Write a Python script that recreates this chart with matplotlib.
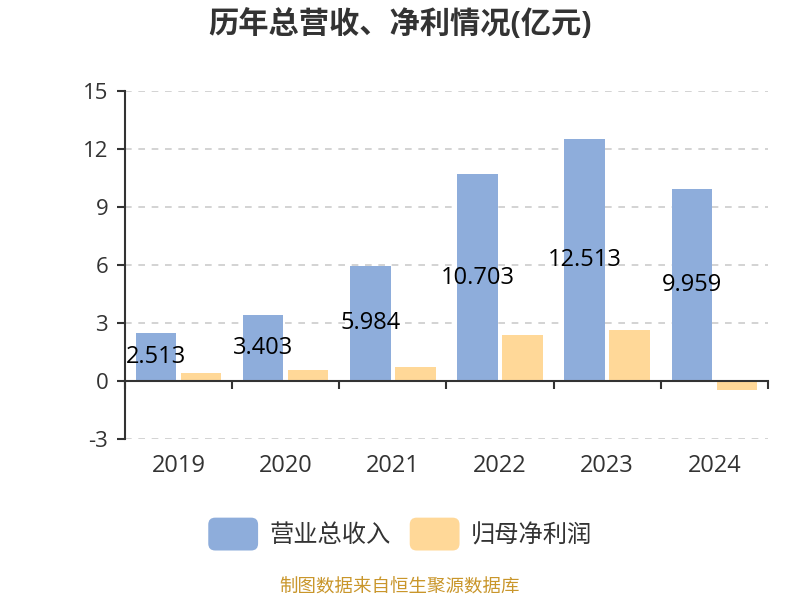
import matplotlib.pyplot as plt
from matplotlib.patches import FancyBboxPatch, Patch
from matplotlib.legend_handler import HandlerPatch
from matplotlib.transforms import blended_transform_factory

plt.rcParams['font.family'] = ['Open Sans', 'Noto Sans CJK SC', 'DejaVu Sans']

years = ["2019", "2020", "2021", "2022", "2023", "2024"]
revenue = [2.513, 3.403, 5.984, 10.703, 12.513, 9.959]
net_profit = [0.45, 0.6, 0.72, 2.4, 2.66, -0.44]
yticks = [-3, 0, 3, 6, 9, 12, 15]

blue = "#8eaddb"
orange = "#ffd898"


class RoundHandler(HandlerPatch):
    def create_artists(self, legend, orig_handle, xdescent, ydescent,
                       width, height, fontsize, trans):
        p = FancyBboxPatch((-xdescent, -ydescent - 4), width, height + 8,
                           boxstyle="round,pad=0,rounding_size=5",
                           facecolor=orig_handle.get_facecolor(),
                           edgecolor="none", transform=trans)
        return [p]


def main():
    fig = plt.figure(figsize=(8, 6), dpi=100)
    ax = fig.add_axes([0.156, 0.268, 0.804, 0.58])

    x = list(range(len(years)))
    ax.bar([i - 0.21 for i in x], revenue, width=0.38, color=blue)
    ax.bar([i + 0.21 for i in x], net_profit, width=0.38, color=orange)

    for i, v in enumerate(revenue):
        ax.text(i - 0.21, v / 2, f"{v:.3f}", ha="center", va="center",
                fontsize=17, color="black")

    ax.set_xlim(-0.5, 5.5)
    ax.set_ylim(-3, 15)
    ax.set_yticks(yticks)
    ax.set_yticklabels([str(t) for t in yticks], fontsize=16, color="#333333")
    ax.yaxis.grid(True, linestyle=(0, (4, 4)), color="#cccccc", linewidth=1.2)
    ax.set_axisbelow(True)

    for s in ["top", "right"]:
        ax.spines[s].set_visible(False)
    ax.spines["left"].set_color("#333333")
    ax.spines["left"].set_linewidth(1.5)
    ax.spines["bottom"].set_position(("data", 0))
    ax.spines["bottom"].set_color("#333333")
    ax.spines["bottom"].set_linewidth(1.5)
    ax.tick_params(axis="y", length=6, width=1.5, color="#333333", pad=6)

    ax.set_xticks([i - 0.5 for i in range(len(years) + 1)])
    ax.set_xticklabels([])
    ax.tick_params(axis="x", length=6, width=1.5, color="#333333")

    tr = blended_transform_factory(ax.transData, ax.transAxes)
    for i, y in enumerate(years):
        ax.annotate(y, (i, 0), xycoords=tr, xytext=(0, -11), textcoords="offset points",
                    ha="center", va="top", fontsize=17, color="#333333")

    fig.suptitle("历年总营收、净利情况(亿元)", x=0.5, y=0.985, fontsize=21.8,
                 fontweight="bold", color="#333333")

    h1 = Patch(facecolor=blue, label="营业总收入")
    h2 = Patch(facecolor=orange, label="归母净利润")
    fig.legend(handles=[h1, h2], loc="center", bbox_to_anchor=(0.5, 0.107), ncol=2,
               frameon=False, fontsize=17.5, handlelength=2.05, handleheight=1.0,
               columnspacing=0.8, handletextpad=0.45, labelcolor="#333333",
               handler_map={Patch: RoundHandler()})

    fig.text(0.5, 0.005, "制图数据来自恒生聚源数据库", ha="center", va="bottom",
             fontsize=13.3, color="#c9962b")

    fig.savefig("out.png", dpi=100)


if __name__ == "__main__":
    main()
